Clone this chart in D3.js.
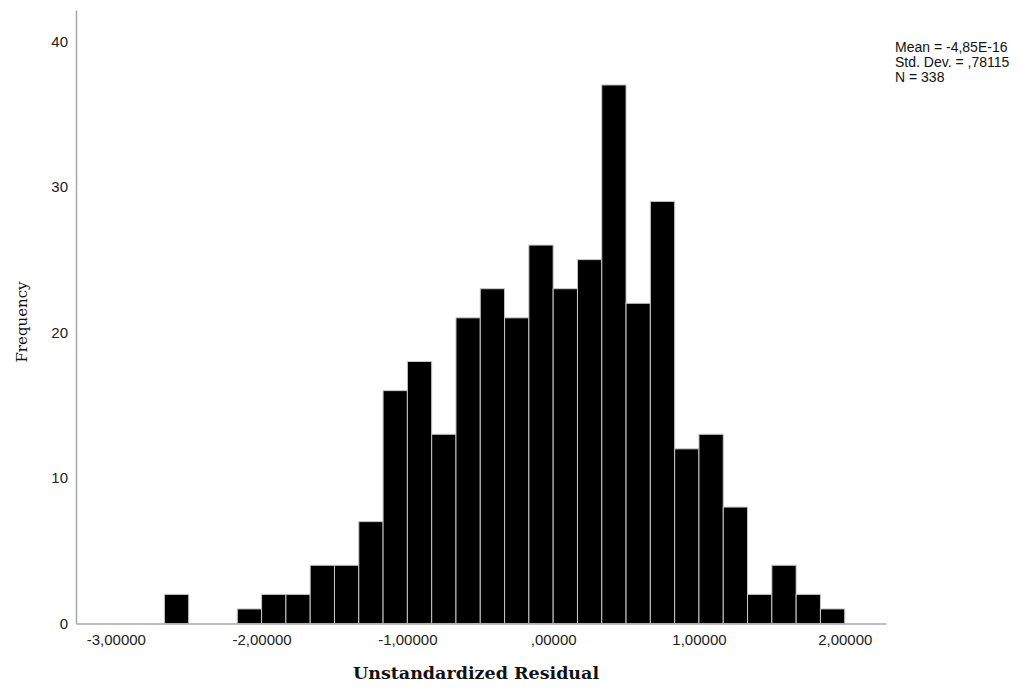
<!DOCTYPE html>
<html>
<head>
<meta charset="utf-8">
<title>Histogram - Unstandardized Residual</title>
<script src="https://d3js.org/d3.v7.min.js"></script>
<style>
  body { margin: 0; background: #fff; }
  svg { display: block; }
</style>
</head>
<body>
<svg width="1022" height="689"></svg>
<script>
// lower edge of each bin (bin width 1/6)
var binLower = [-2.6667, -2.5, -2.3333, -2.1667, -2.0, -1.8333, -1.6667, -1.5, -1.3333,
  -1.1667, -1.0, -0.8333, -0.6667, -0.5, -0.3333, -0.1667, 0.0, 0.1667, 0.3333,
  0.5, 0.6667, 0.8333, 1.0, 1.1667, 1.3333, 1.5, 1.6667, 1.8333];
var counts = [2, 0, 0, 1, 2, 2, 4, 4, 7, 16, 18, 13, 21, 23, 21, 26, 23, 25, 37,
  22, 29, 12, 13, 8, 2, 4, 2, 1];
var binWidth = 1 / 6;

var xTicks = [-3, -2, -1, 0, 1, 2];
var xTickLabels = ['-3,00000', '-2,00000', '-1,00000', ',00000', '1,00000', '2,00000'];
var yTicks = [0, 10, 20, 30, 40];
var statsLines = ['Mean = -4,85E-16', 'Std. Dev. = ,78115', 'N = 338'];

var svg = d3.select('svg');

var x = d3.scaleLinear().domain([-3.273, 2.283]).range([76, 886]);
var y = d3.scaleLinear().domain([0, 42.15]).range([623.5, 10]);

// bars
svg.append('g')
  .selectAll('rect')
  .data(counts.map(function(c, i) { return {x0: binLower[i], n: c}; }))
  .enter().filter(function(d) { return d.n > 0; })
  .append('rect')
  .attr('x', function(d) { return x(d.x0); })
  .attr('y', function(d) { return y(d.n); })
  .attr('width', function(d) { return x(d.x0 + binWidth) - x(d.x0); })
  .attr('height', function(d) { return y(0) - y(d.n); })
  .attr('fill', '#000')
  .attr('stroke', '#c8c8c8')
  .attr('stroke-width', 1);

// axes
var xAxis = d3.axisBottom(x)
  .tickValues(xTicks)
  .tickFormat(function(d, i) { return xTickLabels[i]; })
  .tickSize(0)
  .tickPadding(11);
var gx = svg.append('g').attr('transform', 'translate(0,' + y(0) + ')').call(xAxis);

var yAxis = d3.axisLeft(y).tickValues(yTicks).tickSize(0).tickPadding(8);
var gy = svg.append('g').attr('transform', 'translate(' + x.range()[0] + ',0)').call(yAxis);

[gx, gy].forEach(function(g) {
  g.select('.domain').attr('stroke', '#a8a8a8').attr('stroke-width', 1.5);
  g.selectAll('text')
    .attr('fill', '#222')
    .style('font-family', '"Liberation Sans", Arial, sans-serif')
    .style('font-size', '15px');
});

// axis titles
svg.append('text')
  .attr('x', 476).attr('y', 679)
  .attr('text-anchor', 'middle')
  .style('font-family', '"DejaVu Serif", "Liberation Serif", serif')
  .style('font-weight', 'bold')
  .style('font-size', '17.5px')
  .attr('fill', '#111')
  .text('Unstandardized Residual');

svg.append('text')
  .attr('transform', 'translate(27,322) rotate(-90)')
  .attr('text-anchor', 'middle')
  .style('font-family', '"DejaVu Serif", "Liberation Serif", serif')
  .style('font-size', '15px')
  .attr('fill', '#111')
  .text('Frequency');

// summary stats
svg.append('g')
  .selectAll('text')
  .data(statsLines)
  .enter().append('text')
  .attr('x', 895)
  .attr('y', function(d, i) { return 52 + i * 14.8; })
  .style('font-family', '"Liberation Sans", Arial, sans-serif')
  .style('font-size', '14px')
  .attr('fill', '#111')
  .text(function(d) { return d; });
</script>
</body>
</html>
